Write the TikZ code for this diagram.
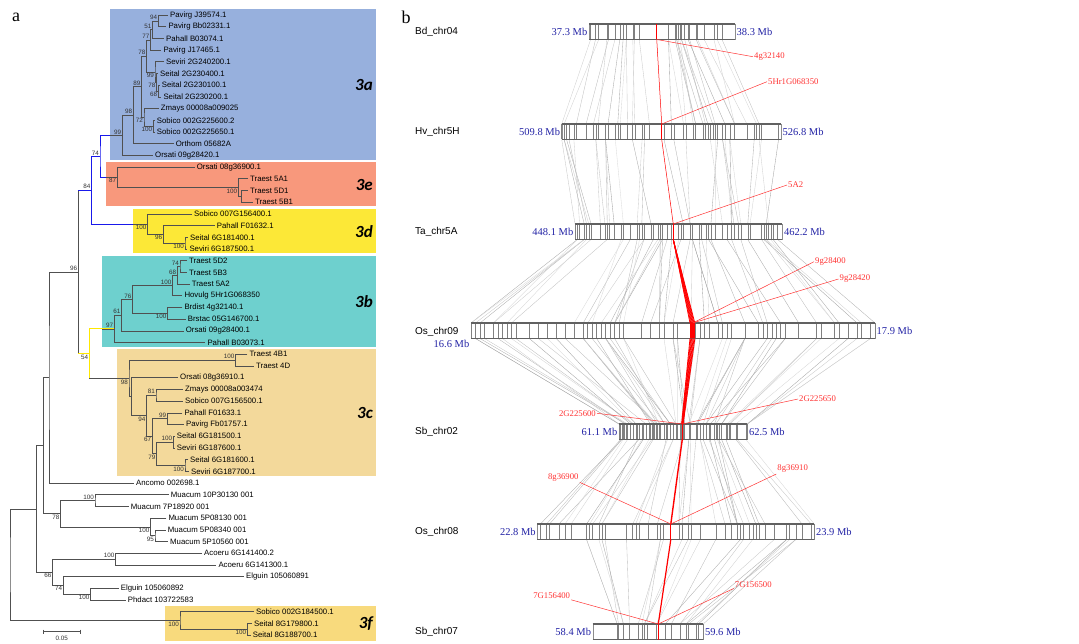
\documentclass[tikz,border=0pt]{standalone}
\usepackage{fontspec}
\setmainfont{Liberation Serif}
\setsansfont{Liberation Sans}
\newfontfamily\cladefont{Carlito}
\usetikzlibrary{calc}

\definecolor{cla}{RGB}{151,176,221}
\definecolor{cle}{RGB}{248,152,124}
\definecolor{cld}{RGB}{252,232,55}
\definecolor{clb}{RGB}{110,208,206}
\definecolor{clc}{RGB}{243,217,155}
\definecolor{clf}{RGB}{248,218,125}
\definecolor{brgray}{RGB}{80,80,80}
\definecolor{brblue}{RGB}{25,25,235}
\definecolor{bryel}{RGB}{255,232,0}
\definecolor{mbblue}{RGB}{35,35,165}
\definecolor{genered}{RGB}{255,50,50}

\tikzset{
  br/.style={draw=brgray, line width=0.6pt},
  blu/.style={draw=brblue, line width=0.8pt},
  yel/.style={draw=bryel, line width=0.8pt},
  leaf/.style={font=\sffamily\fontsize{7.8}{9}\selectfont, anchor=west, inner sep=2pt},
  boot/.style={font=\sffamily\fontsize{6.3}{7}\selectfont, inner sep=1pt, text=black!80},
  clade/.style={font=\cladefont\bfseries\itshape\fontsize{17}{20}\selectfont, anchor=east, inner sep=0pt},
  panel/.style={font=\fontsize{18}{20}\selectfont, inner sep=0pt},
  chrbar/.style={draw=black!45, line width=0.4pt, anchor=north west, minimum height=15.5pt, inner sep=0pt, outer sep=0pt},
  chredge/.style={draw=black!62, line width=1.3pt},
  chrname/.style={font=\sffamily\fontsize{10}{12}\selectfont, anchor=west, inner sep=0pt},
  mb/.style={font=\fontsize{10.5}{12}\selectfont, text=mbblue, inner sep=1.5pt},
  gtick/.style={draw=black!50, line width=0.5pt},
  glab/.style={font=\fontsize{8.7}{10}\selectfont, text=genered, inner sep=1pt},
  lead/.style={draw=genered, line width=0.5pt},
  ribbon/.style={draw=red, line width=0.8pt}
}

\newcommand{\fork}[5][br]{%
  \path let \p1=($(#4)!.5!(#5)$) in (#3pt,\y1) coordinate (#2);
  \draw[#1] (#4) -| (#2) |- (#5);}

\newcommand{\chrom}[4]{%
  \node[chrbar, minimum width={(#3-#2)*1pt}] (#1) at (#2,#4) {};}

\newcommand{\synt}[4]{%
  \foreach \k in {1,...,#3}{
    \pgfmathsetmacro\fa{round(90*rnd)/90}
    \pgfmathsetmacro\fb{max(0,min(1,round(90*(\fa+#4*rand))/90))}
    \pgfmathsetmacro\sh{int(14+24*rnd)}
    \draw[draw=black!\sh, line width=0.35pt] ($(#1.south west)!\fa!(#1.south east)$) -- ($(#2.north west)!\fb!(#2.north east)$);
    \draw[gtick] ($(#1.north west)!\fa!(#1.north east)$) -- ($(#1.south west)!\fa!(#1.south east)$);
    \draw[gtick] ($(#2.north west)!\fb!(#2.north east)$) -- ($(#2.south west)!\fb!(#2.south east)$);
  }}

\newcommand{\gene}[3]{%
  \coordinate (#1t) at ($(#2.north west)!#3!(#2.north east)$);
  \coordinate (#1b) at ($(#2.south west)!#3!(#2.south east)$);
  \draw[draw=red, line width=0.8pt] (#1t) -- (#1b);}

\begin{document}
\begin{tikzpicture}[x=1pt, y=-1pt]
  \useasboundingbox (0,0) rectangle (1079,644);

  \node[panel] (pa) at (16,17) {a};
  \node[panel] (pb) at (406,17.5) {b};

  \fill[cla] (110,9.3) rectangle (375.7,160);
  \fill[cle] (106,161.7) rectangle (375.7,205.7);
  \fill[cld] (133.3,209) rectangle (375.7,253.3);
  \fill[clb] (102.3,256) rectangle (375.7,347.3);
  \fill[clc] (116.7,349.3) rectangle (375.7,475.7);
  \fill[clf] (165,606) rectangle (375.7,640.7);

  \node[clade] (t3a) at (373,85) {3a};
  \node[clade] (t3e) at (373,185) {3e};
  \node[clade] (t3d) at (373,231.7) {3d};
  \node[clade] (t3b) at (373,301.7) {3b};
  \node[clade] (t3c) at (373,413.3) {3c};
  \node[clade] (t3f) at (373,624) {3f};

  \foreach \tx/\lab [count=\i] in {168/Pavirg J39574.1, 166.3/Pavirg Bb02331.1,
      164/Pahall B03074.1, 161.3/Pavirg J17465.1, 164/Seviri 2G240200.1,
      158/Seital 2G230400.1, 159.7/Seital 2G230100.1, 161.3/Seital 2G230200.1,
      158.7/Zmays 00008a009025, 154.7/Sobico 002G225600.2, 154.7/Sobico 002G225650.1,
      173.7/Orthom 05682A, 153/Orsati 09g28420.1, 194.7/Orsati 08g36900.1,
      248/Traest 5A1, 248/Traest 5D1, 253/Traest 5B1, 192/Sobico 007G156400.1,
      214.7/Pahall F01632.1, 188/Seital 6G181400.1, 187.3/Seviri 6G187500.1,
      187/Traest 5D2, 187/Traest 5B3, 189.7/Traest 5A2, 182.3/Hovulg 5Hr1G068350,
      182.3/Brdist 4g32140.1, 185.7/Brstac 05G146700.1, 183.7/Orsati 09g28400.1,
      205.3/Pahall B03073.1, 247.3/Traest 4B1, 254/Traest 4D, 178/Orsati 08g36910.1,
      183/Zmays 00008a003474, 183/Sobico 007G156500.1, 182.3/Pahall F01633.1,
      184/Pavirg Fb01757.1, 174.7/Seital 6G181500.1, 174.7/Seviri 6G187600.1,
      188/Seital 6G181600.1, 189/Seviri 6G187700.1, 134/Ancomo 002698.1,
      168.7/Muacum 10P30130 001, 128.7/Muacum 7P18920 001, 166.3/Muacum 5P08130 001,
      165.7/Muacum 5P08340 001, 168/Muacum 5P10560 001, 202/Acoeru 6G141400.2,
      216.3/Acoeru 6G141300.1, 244/Elguin 105060891, 118.7/Elguin 105060892,
      125.7/Phdact 103722583, 254/Sobico 002G184500.1, 252/Seital 8G179800.1,
      250.7/Seital 8G188700.1}
    \node[leaf] (l\i) at (\tx,{15+11.7*(\i-1)}) {\lab};

  \fork{a94}{158.3}{l1.west}{l2.west}
  \fork{a51}{152.5}{a94}{l3.west}
  \fork{a77}{150.5}{a51}{l4.west}
  \fork{a68}{158.3}{l7.west}{l8.west}
  \fork{a78b}{156.7}{l6.west}{a68}
  \fork{a99b}{155}{l5.west}{a78b}
  \fork{a78}{146.7}{a77}{a99b}
  \fork{a100}{153.3}{l10.west}{l11.west}
  \fork{a72}{144}{l9.west}{a100}
  \fork{a89}{141.5}{a78}{a72}
  \fork{a98}{133.3}{a89}{l12.west}
  \fork{a99}{122.3}{a98}{l13.west}

  \fork{e100b}{241.5}{l16.west}{l17.west}
  \fork{e100}{238.3}{l15.west}{e100b}
  \fork{e87}{117.3}{l14.west}{e100}

  \fork{d100b}{185}{l20.west}{l21.west}
  \fork{d96}{163.3}{l19.west}{d100b}
  \fork{d100}{147.7}{l18.west}{d96}

  \fork{g74}{180}{l22.west}{l23.west}
  \fork{g68}{177.3}{g74}{l24.west}
  \fork{g100}{172.7}{g68}{l25.west}
  \fork{g100b}{167.7}{l26.west}{l27.west}
  \fork{g76}{132.7}{g100}{g100b}
  \fork{g61}{121.7}{g76}{l28.west}
  \fork{g97}{114.3}{g61}{l29.west}

  \fork{c100}{235.7}{l30.west}{l31.west}
  \fork{c81}{156}{l33.west}{l34.west}
  \fork{c99}{167.3}{l35.west}{l36.west}
  \fork{c100b}{173.3}{l37.west}{l38.west}
  \fork{c100c}{185}{l39.west}{l40.west}
  \fork{c79}{156.7}{c100b}{c100c}
  \fork{c67}{152.3}{c99}{c79}
  \fork{c94}{146.7}{c81}{c67}
  \fork{cy}{131.7}{l32.west}{c94}
  \fork{c98}{129}{c100}{cy}

  \fork[blu]{b74}{100}{a99}{e87}
  \fork[blu]{b84}{91.7}{b74}{d100}
  \draw[br] let \p1=(a99) in (110pt,\y1) -- (a99);
  \draw[br] let \p1=(e87) in (106pt,\y1) -- (e87);
  \draw[br] let \p1=(d100) in (133.3pt,\y1) -- (d100);
  \fork[yel]{y54}{89.3}{g97}{c98}
  \draw[br] let \p1=(g97) in (102.3pt,\y1) -- (g97);
  \draw[br] (y54 |- c98) -- (c98);
  \fork{r96}{78.3}{b84}{y54}
  \draw[blu] (r96 |- b84) -- (b84);
  \draw[yel] (r96 |- y54) -- (y54);

  \fork{oC}{49}{r96}{l41.west}
  \fork{m100}{95}{l42.west}{l43.west}
  \fork{m95}{155}{l45.west}{l46.west}
  \fork{m100b}{150.7}{l44.west}{m95}
  \fork{m78}{60.7}{m100}{m100b}
  \fork{oB}{43.3}{oC}{m78}
  \fork{ac100}{115.7}{l47.west}{l48.west}
  \fork{el100}{90.7}{l50.west}{l51.west}
  \fork{el74}{63.3}{l49.west}{el100}
  \fork{o66}{52.7}{ac100}{el74}
  \fork{oA}{36.7}{oB}{o66}
  \fork{f100b}{247.3}{l53.west}{l54.west}
  \fork{f100}{180}{l52.west}{f100b}
  \fork{root}{10}{oA}{f100}

  \foreach \n/\v/\a in {a94/94/south east, a51/51/south east, a77/77/south east,
      a78/78/south east, a89/89/south east, a98/98/south east, a99/99/south east,
      a99b/99/north east, a78b/78/north east, a68/68/north east, a72/72/north east,
      a100/100/north east, b74/74/south east, b84/84/south east, e87/87/north east,
      e100/100/north east, d100/100/north east, d96/96/north east, d100b/100/north east,
      r96/96/south east, g74/74/south east, g68/68/south east, g100/100/south east,
      g100b/100/north east, g76/76/south east, g61/61/south east, g97/97/south east,
      y54/54/north east, c100/100/south east, c98/98/north east, c81/81/south east,
      c94/94/north east, c99/99/south east, c67/67/north east, c100b/100/south east,
      c79/79/north east, c100c/100/north east, m100/100/south east, m78/78/north east,
      m100b/100/north east, m95/95/north east, ac100/100/south east, o66/66/north east,
      el74/74/north east, el100/100/north east, f100/100/north east, f100b/100/north east}
    \node[boot, anchor=\a] (bs-\n) at (\n) {\v};

  \coordinate (sb1) at (43.3,631.7);
  \coordinate (sb2) at (80,631.7);
  \draw[br] (sb1) -- (sb2);
  \draw[br] ([yshift=2pt]sb1) -- ([yshift=-2pt]sb1);
  \draw[br] ([yshift=2pt]sb2) -- ([yshift=-2pt]sb2);
  \node[boot] (sbl) at (61.7,638.5) {0.05};

  \chrom{bd}{589}{735}{24}
  \chrom{hv}{561.7}{781}{124}
  \chrom{ta}{575}{782.3}{224}
  \chrom{os9}{471}{875}{323}
  \chrom{sb2}{619}{747.3}{424}
  \chrom{os8}{537.3}{814.3}{524}
  \chrom{sb7}{592.7}{703.3}{624}

  \pgfmathsetseed{11}
  \synt{bd}{hv}{32}{0.07}
  \synt{hv}{ta}{30}{0.07}
  \synt{ta}{os9}{45}{0.08}
  \synt{os9}{sb2}{55}{0.08}
  \synt{sb2}{os8}{36}{0.08}
  \synt{os8}{sb7}{22}{0.08}

  \foreach \c in {bd,hv,ta,os9,sb2,os8,sb7}
    \draw[chredge] (\c.north west) -- (\c.north east) (\c.south west) -- (\c.south east);

  \foreach \c/\t [count=\i] in {bd/Bd\_chr04, hv/Hv\_chr5H, ta/Ta\_chr5A, os9/Os\_chr09,
      sb2/Sb\_chr02, os8/Os\_chr08, sb7/Sb\_chr07}
    \node[chrname] (\c-n) at (415,{32.2+100*(\i-1)}) {\t};

  \foreach \c/\l/\r in {bd/37.3/38.3, hv/509.8/526.8, ta/448.1/462.2, sb2/61.1/62.5,
      os8/22.8/23.9, sb7/58.4/59.6} {
    \node[mb, anchor=east] (\c-l) at (\c.west) {\l~Mb};
    \node[mb, anchor=west] (\c-r) at (\c.east) {\r~Mb};
  }
  \node[mb, anchor=north east] (os9-l) at (os9.south west) {16.6~Mb};
  \node[mb, anchor=west] (os9-r) at (os9.east) {17.9~Mb};

  \gene{gbd}{bd}{0.464}
  \gene{ghv}{hv}{0.456}
  \gene{gta}{ta}{0.474}
  \gene{gos9}{os9}{0.549}
  \gene{gsb2}{sb2}{0.493}
  \gene{gos8}{os8}{0.482}
  \gene{gsb7}{sb7}{0.593}

  \draw[draw=red, line width=0.5pt] (gbdb) -- (ghvt);
  \draw[draw=red, line width=0.5pt] (ghvb) -- (gtat);
  \foreach \f [count=\j] in {0.542,0.544,0.546,0.548,0.550,0.552,0.554} {
    \pgfmathsetmacro\g{0.486+0.002*\j}
    \draw[ribbon] (gtab) -- ($(os9.north west)!\f!(os9.north east)$);
    \draw[ribbon] ($(os9.north west)!\f!(os9.north east)$) -- ($(os9.south west)!\f!(os9.south east)$);
    \draw[ribbon] ($(os9.south west)!\f!(os9.south east)$) -- ($(sb2.north west)!\g!(sb2.north east)$);
  }
  \draw[draw=red, line width=1.4pt] (gsb2b) -- (gos8t);
  \draw[draw=red, line width=1.2pt] (gos8b) -- (gsb7t);

  \node[glab, anchor=west] (n4g) at (753,56.7) {4g32140};
  \node[glab, anchor=west] (n5h) at (767,81.7) {5Hr1G068350};
  \node[glab, anchor=west] (n5a) at (787,185) {5A2};
  \node[glab, anchor=west] (n9a) at (814,261.7) {9g28400};
  \node[glab, anchor=west] (n9b) at (838.5,279) {9g28420};
  \node[glab, anchor=east] (n2a) at (597,413.3) {2G225600};
  \node[glab, anchor=west] (n2b) at (798,399) {2G225650};
  \node[glab] (n8a) at (563.3,477.3) {8g36900};
  \node[glab] (n8b) at (792.7,469) {8g36910};
  \node[glab] (n7a) at (551.7,595.7) {7G156400};
  \node[glab] (n7b) at (753.3,584.3) {7G156500};

  \draw[lead] (gbdb) -- (n4g.west);
  \draw[lead] (ghvt) -- (n5h.west);
  \draw[lead] (gtat) -- (n5a.west);
  \draw[lead] (gos9t) -- (n9a.west);
  \draw[lead] (gos9t) -- (n9b.west);
  \draw[lead] (n2a.east) -- (gsb2t);
  \draw[lead] (gsb2t) -- (n2b.west);
  \draw[lead] (n8a.south east) -- (gos8t);
  \draw[lead] (n8b.south west) -- (gos8t);
  \draw[lead] (n7a.south east) -- (gsb7t);
  \draw[lead] (n7b.south west) -- (gsb7t);
\end{tikzpicture}
\end{document}
